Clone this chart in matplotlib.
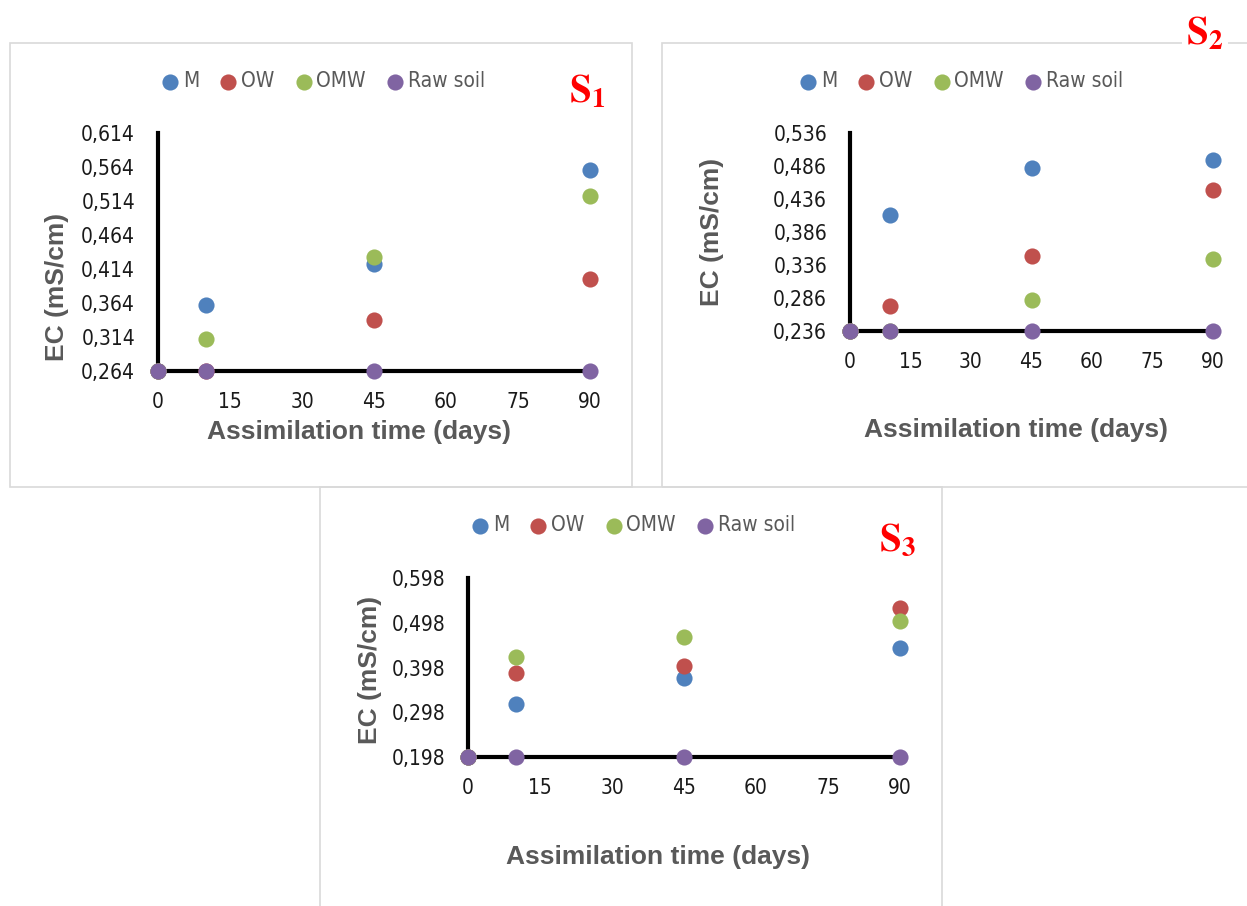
import matplotlib.pyplot as plt
from matplotlib.patches import Rectangle

plt.rcParams['mathtext.fontset'] = 'stix'

W, H = 1247, 906

days = [0, 10, 45, 90]
series = ['M', 'OW', 'OMW', 'Raw soil']
colors = ['#4f81bd', '#c0504d', '#9bbb59', '#8064a2']
x_ticks = [0, 15, 30, 45, 60, 75, 90]

# EC (mS/cm) per soil
s1_m = [0.264, 0.361, 0.421, 0.560]
s1_ow = [0.264, 0.264, 0.339, 0.399]
s1_omw = [0.264, 0.311, 0.432, 0.521]
s1_raw = [0.264, 0.264, 0.264, 0.264]
s1_ticks = ['0,264', '0,314', '0,364', '0,414', '0,464', '0,514', '0,564', '0,614']
s1_tickvals = [0.264, 0.314, 0.364, 0.414, 0.464, 0.514, 0.564, 0.614]

s2_m = [0.236, 0.412, 0.483, 0.495]
s2_ow = [0.236, 0.274, 0.350, 0.450]
s2_omw = [0.236, 0.236, 0.283, 0.345]
s2_raw = [0.236, 0.236, 0.236, 0.236]
s2_ticks = ['0,236', '0,286', '0,336', '0,386', '0,436', '0,486', '0,536']
s2_tickvals = [0.236, 0.286, 0.336, 0.386, 0.436, 0.486, 0.536]

s3_m = [0.198, 0.316, 0.375, 0.442]
s3_ow = [0.198, 0.386, 0.401, 0.531]
s3_omw = [0.198, 0.421, 0.466, 0.502]
s3_raw = [0.198, 0.198, 0.198, 0.198]
s3_ticks = ['0,198', '0,298', '0,398', '0,498', '0,598']
s3_tickvals = [0.198, 0.298, 0.398, 0.498, 0.598]

label_font = ['Liberation Sans', 'DejaVu Sans']
grey = '#595959'

fig = plt.figure(figsize=(W / 100, H / 100), dpi=100)


def fx(px):
    return px / W


def fy(py):
    return 1 - py / H


def box(x0, y0, x1, y1):
    fig.patches.append(Rectangle((fx(x0), fy(y1)), fx(x1 - x0), (y1 - y0) / H,
                                 transform=fig.transFigure, fill=False,
                                 edgecolor='#d9d9d9', lw=1.2, zorder=0))


def panel(ax_px, data, tickvals, ticklabels, legend_xy, ylab_xy, xlab_xy, tag, tag_xy):
    x0, y0, x1, y1 = ax_px
    ax = fig.add_axes([fx(x0), fy(y1), fx(x1 - x0), (y1 - y0) / H])
    for vals, name, c in zip(data, series, colors):
        ax.scatter(days, vals, s=135, color=c, label=name, clip_on=False,
                   zorder=3, linewidths=0)
    ax.set_xlim(0, 90)
    ax.set_ylim(tickvals[0], tickvals[-1])
    ax.set_xticks(x_ticks)
    ax.set_xticklabels([str(t) for t in x_ticks])
    ax.set_yticks(tickvals)
    ax.set_yticklabels(ticklabels)
    ax.tick_params(length=0, labelsize=15)
    ax.tick_params(axis='x', pad=15)
    ax.tick_params(axis='y', pad=16.5)
    for lab in ax.get_xticklabels() + ax.get_yticklabels():
        lab.set_family('DejaVu Sans')
        lab.set_stretch('condensed')
        lab.set_color('#1a1a1a')
    for side in ['top', 'right']:
        ax.spines[side].set_visible(False)
    for side in ['left', 'bottom']:
        ax.spines[side].set_linewidth(3)
        ax.spines[side].set_color('black')
    ax.patch.set_alpha(0)
    leg = ax.legend(loc='center', bbox_to_anchor=(fx(legend_xy[0]), fy(legend_xy[1])),
                    bbox_transform=fig.transFigure, ncol=4, frameon=False,
                    handlelength=0.7, handletextpad=0.27, columnspacing=1.04,
                    prop={'family': 'DejaVu Sans', 'stretch': 'condensed', 'size': 15})
    for t in leg.get_texts():
        t.set_color(grey)
    fig.text(fx(ylab_xy[0]), fy(ylab_xy[1]), 'EC (mS/cm)', rotation=90, ha='center',
             va='center', fontsize=19, fontweight='bold', color=grey, family=label_font)
    fig.text(fx(xlab_xy[0]), fy(xlab_xy[1]), 'Assimilation time (days)', ha='center',
             va='center', fontsize=19, fontweight='bold', color=grey, family=label_font)
    fig.text(fx(tag_xy[0]), fy(tag_xy[1]), r'$\mathbf{S}_{\mathbf{%s}}$' % tag,
             ha='center', va='center', fontsize=28, color='#ff0000',
             bbox=dict(facecolor='white', edgecolor='none', pad=3))
    return ax


box(10, 43, 632, 487)
box(662, 43, 1262, 487)
box(320, 487, 942, 920)

panel((158, 133, 590, 371), [s1_m, s1_ow, s1_omw, s1_raw], s1_tickvals, s1_ticks,
      (324, 81), (57, 287), (359, 432), '1', (587, 92))
panel((850, 133, 1213, 331), [s2_m, s2_ow, s2_omw, s2_raw], s2_tickvals, s2_ticks,
      (962, 81), (712, 232), (1016, 430), '2', (1205, 34))
panel((468, 578, 900, 757), [s3_m, s3_ow, s3_omw, s3_raw], s3_tickvals, s3_ticks,
      (634, 525), (370, 670), (658, 857), '3', (897, 540))

fig.savefig('out.png', dpi=100)
